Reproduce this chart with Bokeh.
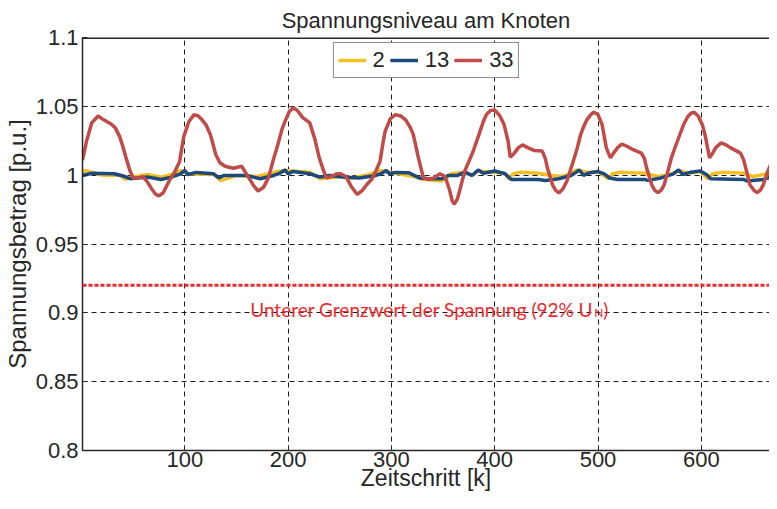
from bokeh.plotting import figure
from bokeh.models import (Range1d, FixedTicker, Span, Label)
from bokeh.embed import file_html
from bokeh.resources import INLINE

# ---------------- data ----------------
k33 = [1, 5, 10, 16, 22, 29, 33, 37, 40, 43, 47, 50, 55, 59, 63, 68, 72, 75, 79, 85, 90, 95, 99,
       104, 109, 113, 117, 121, 125, 130, 134, 139, 147, 155, 158, 162, 167, 171, 176, 181, 186,
       190, 194, 197, 201, 205, 209, 214, 221, 226, 230, 234, 237, 242, 247, 251, 256, 261, 267,
       272, 276, 281, 285, 289, 292, 294, 299, 304, 309, 314, 318, 321, 324, 326, 331, 336, 341,
       347, 352, 356, 359, 361, 364, 366, 371, 375, 379, 385, 389, 392, 396, 400, 405, 409, 413,
       415, 419, 423, 427, 432, 438, 446, 449, 451, 456, 459, 462, 466, 470, 476, 480, 483, 486,
       489, 493, 496, 500, 504, 508, 512, 515, 519, 523, 528, 534, 542, 545, 547, 552, 555, 558,
       561, 564, 567, 571, 575, 579, 583, 587, 590, 593, 597, 601, 604, 606, 608, 611, 614, 619,
       624, 628, 633, 638, 641, 643, 647, 651, 654, 657, 660, 664, 667]
v33 = [1.011, 1.025, 1.038, 1.043, 1.040, 1.037, 1.034, 1.028, 1.021, 1.013, 1.003, 0.998, 0.998,
       0.999, 0.996, 0.990, 0.986, 0.985, 0.987, 0.996, 1.002, 1.010, 1.028, 1.039, 1.044, 1.043,
       1.040, 1.036, 1.029, 1.015, 1.009, 1.0065, 1.005, 1.0065, 1.003, 0.998, 0.992, 0.9885,
       0.991, 0.998, 1.012, 1.022, 1.033, 1.039, 1.046, 1.049, 1.047, 1.042, 1.038, 1.026, 1.013,
       1.004, 0.998, 0.999, 1.001, 1.001, 0.999, 0.992, 0.986, 0.989, 0.993, 0.997, 1.003, 1.010,
       1.024, 1.032, 1.041, 1.044, 1.043, 1.040, 1.035, 1.030, 1.020, 1.013, 0.998, 0.997, 0.998,
       1.001, 0.999, 0.990, 0.981, 0.979, 0.983, 0.9885, 1.003, 1.010, 1.017, 1.030, 1.039, 1.044,
       1.047, 1.0474, 1.043, 1.037, 1.0245, 1.013, 1.016, 1.020, 1.022, 1.020, 1.018, 1.0175,
       1.012, 1.0053, 0.993, 0.989, 0.987, 0.990, 0.996, 1.010, 1.020, 1.029, 1.035, 1.040, 1.044,
       1.0457, 1.044, 1.0366, 1.020, 1.0126, 1.016, 1.020, 1.0226, 1.021, 1.0185, 1.016, 1.012,
       1.0053, 0.993, 0.989, 0.9873, 0.989, 0.993, 1.001, 1.0126, 1.021, 1.029, 1.037, 1.0426,
       1.045, 1.0457, 1.043, 1.0366, 1.028, 1.020, 1.0126, 1.016, 1.020, 1.0234, 1.022, 1.020,
       1.018, 1.016, 1.011, 1.0053, 0.993, 0.989, 0.9873, 0.989, 0.993, 1.002, 1.0077]

k13 = [1, 10, 32, 42, 47, 64, 77, 87, 96, 100, 103, 111, 128, 133, 138, 160, 173, 186, 192, 197,
       200, 205, 221, 231, 240, 253, 269, 285, 290, 295, 298, 304, 317, 327, 336, 349, 355, 364,
       371, 378, 384, 389, 400, 410, 416, 442, 449, 462, 474, 479, 482, 486, 490, 500, 506, 511,
       519, 545, 548, 561, 573, 578, 582, 590, 599, 605, 609, 641, 644, 660, 667]
v13 = [0.9998, 1.0014, 1.001, 0.999, 0.9974, 0.9986, 0.9969, 0.9986, 1.001, 1.0034, 1.0005, 1.002,
       1.001, 0.998, 0.9998, 0.9998, 0.9974, 0.9998, 1.0014, 1.0038, 1.001, 1.0027, 1.001, 0.9986,
       0.9998, 0.9986, 0.998, 0.9998, 1.001, 1.0034, 1.001, 1.002, 1.0017, 0.998, 0.9974, 0.9974,
       0.9998, 0.9998, 1.0022, 0.9998, 1.0038, 1.0014, 1.003, 1.001, 0.9969, 0.9969, 0.9962,
       0.9974, 0.9998, 1.0022, 1.0038, 0.9998, 1.0014, 1.0026, 1.001, 0.998, 0.9969, 0.9969,
       0.9962, 0.998, 1.001, 1.0038, 1.0005, 1.0022, 1.003, 1.0005, 0.9974, 0.9969, 0.9958,
       0.9969, 0.9986]

k2 = [1, 3, 20, 38, 42, 48, 64, 77, 90, 96, 103, 128, 135, 150, 170, 189, 197, 221, 231, 253,
      259, 279, 289, 304, 324, 330, 349, 358, 371, 378, 384, 410, 413, 418, 426, 442, 455, 465,
      474, 479, 490, 500, 510, 514, 522, 545, 558, 570, 578, 590, 599, 606, 611, 622, 641, 650, 667]
v2 = [1.001, 1.0035, 1.0, 1.0, 0.997, 0.9985, 1.0005, 0.9985, 1.001, 1.0034, 1.001, 1.0005, 0.996,
      0.9998, 0.999, 1.0025, 1.0034, 1.0022, 0.9974, 0.999, 0.9974, 1.0005, 1.0034, 1.0014,
      0.9986, 0.997, 0.9958, 1.001, 1.0022, 0.9998, 1.003, 1.0014, 0.9974, 1.001, 1.0022, 1.0014,
      0.9998, 0.999, 1.001, 1.0038, 1.002, 1.0026, 0.9974, 1.001, 1.0022, 1.0014, 0.999, 1.0005,
      1.003, 1.0015, 1.0026, 0.9974, 1.001, 1.0022, 1.0014, 0.999, 1.0014]

series_names = ["2", "13", "33"]
x_ticks = [100, 200, 300, 400, 500, 600]
y_ticks = [0.8, 0.85, 0.9, 0.95, 1.0, 1.05, 1.1]
y_tick_labels = ["0.8", "0.85", "0.9", "0.95", "1", "1.05", "1.1"]
LIMIT = 0.92
LIMIT_TEXT = "Unterer Grenzwert der Spannung (92% U"
LIMIT_SUB = "N"
X_LABEL = "Zeitschritt [k]"
Y_LABEL = "Spannungsbetrag [p.u.]"
TITLE = "Spannungsniveau am Knoten"

# ---------------- figure ----------------
FONT = "Liberation Sans"
TXT = "#262626"
X0, X1, Y0, Y1 = 1, 666, 0.8, 1.1

p = figure(width=769, height=493, x_range=Range1d(X0, X1), y_range=Range1d(Y0, Y1),
           output_backend="svg", toolbar_location=None,
           min_border_left=75, min_border_right=0, min_border_top=35, min_border_bottom=40)
p.outline_line_color = None
p.background_fill_color = "white"
p.border_fill_color = "white"

p.title.text = TITLE
p.title.align = "center"
p.title.text_font = FONT
p.title.text_font_size = "22px"
p.title.text_font_style = "normal"
p.title.text_color = TXT
p.title.standoff = 10

# axes
xa = p.xaxis[0]
xa.ticker = FixedTicker(ticks=x_ticks)
ya = p.yaxis[0]
ya.ticker = FixedTicker(ticks=y_ticks)
ya.major_label_overrides = {t: l for t, l in zip(y_ticks, y_tick_labels)}
for ax in (xa, ya):
    ax.axis_line_color = TXT
    ax.axis_line_width = 1.5
    ax.major_tick_line_color = TXT
    ax.major_tick_in = 5
    ax.major_tick_out = 0
    ax.minor_tick_line_color = None
    ax.major_label_text_font = FONT
    ax.major_label_text_font_size = "22px"
    ax.major_label_text_color = TXT
    ax.axis_label_text_font = FONT
    ax.axis_label_text_font_style = "normal"
    ax.axis_label_text_color = TXT
xa.axis_label = X_LABEL
xa.axis_label_text_font_size = "23px"
xa.major_label_standoff = 1
xa.axis_label_standoff = -5
ya.axis_label = Y_LABEL
ya.axis_label_text_font_size = "24px"
ya.major_label_standoff = 4
ya.axis_label_standoff = 2

# top border of the box
p.add_layout(Span(location=Y1, dimension="width", line_color=TXT, line_width=3))

# grid
p.xgrid.ticker = FixedTicker(ticks=x_ticks)
p.ygrid.ticker = FixedTicker(ticks=y_ticks)
for g in (p.xgrid[0], p.ygrid[0]):
    g.grid_line_color = "#1a1a1a"
    g.grid_line_dash = "5 4"
    g.grid_line_width = 1

# series
colors = ["#F5BE22", "#1C4A7C", "#C04B48"]
p.line(k2, v2, line_color=colors[0], line_width=3.5, legend_label=series_names[0])
p.line(k13, v13, line_color=colors[1], line_width=3.5, legend_label=series_names[1])
p.line(k33, v33, line_color=colors[2], line_width=3.5, legend_label=series_names[2])

# limit line
RED = "#F0282D"
p.add_layout(Span(location=LIMIT, dimension="width", line_color=RED, line_width=3,
                  line_dash="4 2"))
LX = 495.5
p.add_layout(Label(x=LX, y=LIMIT, text=LIMIT_TEXT, text_align="right",
                   text_baseline="alphabetic", y_offset=-24, text_font="Lato",
                   text_font_size="19px", text_color=RED))
p.add_layout(Label(x=LX, y=LIMIT, text=LIMIT_SUB, text_align="left",
                   text_baseline="alphabetic", x_offset=1, y_offset=-27, text_font="Lato",
                   text_font_size="12px", text_color=RED))
p.add_layout(Label(x=LX, y=LIMIT, text=")", text_align="left",
                   text_baseline="alphabetic", x_offset=10, y_offset=-24, text_font="Lato",
                   text_font_size="19px", text_color=RED))

# legend
lg = p.legend[0]
lg.orientation = "horizontal"
lg.location = "top_center"
lg.label_text_font = FONT
lg.label_text_font_size = "22px"
lg.label_text_color = TXT
lg.glyph_width = 28
lg.glyph_height = 22
lg.label_standoff = 7
lg.label_width = 1
lg.label_height = 22
lg.spacing = 5
lg.padding = 4
lg.margin = 5
lg.border_line_color = "#1a1a1a"
lg.border_line_width = 1
lg.background_fill_alpha = 1

open("out.html", "w").write(file_html(p, INLINE))
